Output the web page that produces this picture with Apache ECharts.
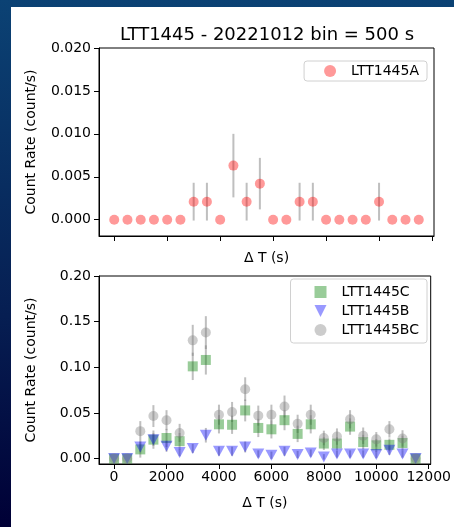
<!DOCTYPE html>
<html>
<head>
<meta charset="utf-8">
<script src="https://cdn.jsdelivr.net/npm/echarts@6/dist/echarts.min.js"></script>
<style>
  html, body { margin: 0; padding: 0; }
  body {
    width: 454px; height: 527px; overflow: hidden;
    background: linear-gradient(to bottom, #0b4274 0%, #061e52 60%, #000036 100%);
    position: relative;
  }
  #panel { position: absolute; left: 11px; top: 7px; right: 0; bottom: 0; background: #fff; }
  #chart { position: absolute; left: 0; top: 0; width: 454px; height: 527px; }
</style>
</head>
<body>
<div id="panel"></div>
<div id="chart"></div>
<script>
// time bins (s)
const deltaT = [0, 500, 1000, 1500, 2000, 2500, 3000, 3500, 4000, 4500, 5000, 5500,
  6000, 6500, 7000, 7500, 8000, 8500, 9000, 9500, 10000, 10500, 11000, 11500];

// LTT1445A (top panel)
const rateA = [0, 0, 0, 0, 0, 0, 0.0021, 0.0021, 0, 0.0063, 0.0021, 0.0042,
  0, 0, 0.0021, 0.0021, 0, 0, 0, 0, 0.0021, 0, 0, 0];
const errA = [0, 0, 0, 0, 0, 0, 0.0022, 0.0022, 0, 0.0037, 0.0022, 0.0030,
  0, 0, 0.0022, 0.0022, 0, 0, 0, 0, 0.0022, 0, 0, 0];

// bottom panel
const rateC = [0, 0, 0.010, 0.0207, 0.0225, 0.019, 0.101, 0.108, 0.0375, 0.037, 0.0527, 0.0335,
  0.032, 0.042, 0.027, 0.0375, 0.0164, 0.0164, 0.035, 0.018, 0.0145, 0.015, 0.017, 0];
const errC = [0, 0, 0.009, 0.010, 0.010, 0.009, 0.015, 0.016, 0.010, 0.010, 0.012, 0.010,
  0.010, 0.011, 0.009, 0.010, 0.007, 0.007, 0.009, 0.008, 0.007, 0.007, 0.008, 0];
const rateB = [0, 0, 0.0127, 0.0207, 0.0135, 0.0065, 0.011, 0.0255, 0.008, 0.008, 0.0127, 0.005,
  0.0036, 0.008, 0.0044, 0.006, 0.0018, 0.005, 0.005, 0.005, 0.0044, 0.009, 0.005, 0];
const errB = [0, 0, 0.006, 0.007, 0.006, 0.004, 0.005, 0.008, 0.005, 0.005, 0.006, 0.004,
  0.004, 0.005, 0.004, 0.004, 0.003, 0.004, 0.004, 0.004, 0.004, 0.005, 0.004, 0];
const rateBC = [0, 0, 0.030, 0.0465, 0.042, 0.028, 0.1295, 0.138, 0.048, 0.051, 0.076, 0.047,
  0.048, 0.057, 0.038, 0.048, 0.0225, 0.024, 0.043, 0.025, 0.021, 0.032, 0.022, 0];
const errBC = [0, 0, 0.011, 0.012, 0.011, 0.010, 0.017, 0.018, 0.011, 0.011, 0.013, 0.011,
  0.011, 0.012, 0.010, 0.011, 0.008, 0.009, 0.010, 0.009, 0.008, 0.009, 0.009, 0];

const xTicks = [0, 2000, 4000, 6000, 8000, 10000, 12000];
const yTicksTop = [0, 0.005, 0.010, 0.015, 0.020];
const yTicksBottom = [0, 0.05, 0.10, 0.15, 0.20];

const FONT = "DejaVu Sans";
const errColor = "rgba(128,128,128,0.5)";

function pts(vals) {
  return deltaT.map((t, i) => [t, vals[i]]);
}
function bars(vals, errs) {
  return deltaT.map((t, i) => [t, vals[i], errs[i]]);
}
function errorSeries(name, vals, errs, axis) {
  return {
    name: name,
    type: "custom",
    xAxisIndex: axis,
    yAxisIndex: axis,
    encode: { x: 0, y: 1 },
    data: bars(vals, errs),
    silent: true,
    renderItem: function (params, api) {
      const x = api.value(0), y = api.value(1), e = api.value(2);
      if (!e) return;
      const p1 = api.coord([x, y - e]);
      const p2 = api.coord([x, y + e]);
      return {
        type: "line",
        shape: { x1: p1[0], y1: p1[1], x2: p2[0], y2: p2[1] },
        style: { stroke: errColor, lineWidth: 2 },
      };
    },
  };
}

function xAxis(idx, showLabels, name, nameGap) {
  return {
    type: "value",
    gridIndex: idx,
    min: -575,
    max: 12075,
    name: name,
    nameLocation: "middle",
    nameGap: nameGap,
    nameTextStyle: { color: "#000", fontFamily: FONT, fontSize: 14 },
    splitLine: { show: false },
    axisLine: { show: true, onZero: false, lineStyle: { color: "#000", width: 1 } },
    axisTick: { show: true, length: 5, customValues: xTicks, lineStyle: { color: "#000" } },
    axisLabel: {
      show: showLabels,
      customValues: xTicks,
      margin: 6,
      color: "#000",
      fontFamily: FONT,
      fontSize: 14,
      formatter: (v) => String(v),
    },
  };
}

function yAxis(idx, min, max, ticks, digits) {
  return {
    type: "value",
    gridIndex: idx,
    min: min,
    max: max,
    name: "Count Rate (count/s)",
    nameLocation: "middle",
    nameGap: 61,
    nameTextStyle: { color: "#000", fontFamily: FONT, fontSize: 14 },
    splitLine: { show: false },
    axisLine: { show: true, onZero: false, lineStyle: { color: "#000", width: 1 } },
    axisTick: { show: true, length: 5, customValues: ticks, lineStyle: { color: "#000" } },
    axisLabel: {
      customValues: ticks,
      margin: 8,
      color: "#000",
      fontFamily: FONT,
      fontSize: 14,
      formatter: (v) => v.toFixed(digits),
    },
  };
}

const legendBox = {
  orient: "vertical",
  right: 27,
  backgroundColor: "rgba(255,255,255,0.8)",
  borderColor: "#d0d0d0",
  borderWidth: 1,
  borderRadius: 3,
  itemWidth: 12,
  itemHeight: 12,
  textStyle: { color: "#000", fontFamily: FONT, fontSize: 14, padding: [0, 0, 0, 10] },
};

const option = {
  animation: false,
  backgroundColor: "transparent",
  textStyle: { fontFamily: FONT },
  title: {
    text: "LTT1445 - 20221012 bin = 500 s",
    left: 262,
    textAlign: "center",
    top: 21,
    textStyle: { color: "#000", fontFamily: FONT, fontSize: 18, fontWeight: "normal" },
  },
  legend: [
    Object.assign({}, legendBox, {
      top: 61,
      padding: [3, 8, 3, 20],
      data: [{ name: "LTT1445A", icon: "circle" }],
    }),
    Object.assign({}, legendBox, {
      top: 279,
      padding: [6, 8, 6, 24],
      itemGap: 5,
      data: [
        { name: "LTT1445C", icon: "rect" },
        { name: "LTT1445B", icon: "path://M0,0 L10,0 L5,10 Z" },
        { name: "LTT1445BC", icon: "circle" },
      ],
    }),
  ],
  grid: [
    { left: 99, top: 48, width: 335, height: 188, show: true, borderColor: "#000", borderWidth: 1, backgroundColor: "transparent" },
    { left: 99, top: 276, width: 335, height: 188, show: true, borderColor: "#000", borderWidth: 1, backgroundColor: "transparent" },
  ],
  xAxis: [
    xAxis(0, false, "\u0394 T (s)", 15),
    xAxis(1, true, "\u0394 T (s)", 32),
  ],
  yAxis: [
    yAxis(0, -0.0019, 0.02, yTicksTop, 3),
    yAxis(1, -0.006, 0.2, yTicksBottom, 2),
  ],
  series: [
    errorSeries("errA", rateA, errA, 0),
    {
      name: "LTT1445A", type: "scatter", xAxisIndex: 0, yAxisIndex: 0,
      symbol: "circle", symbolSize: 10,
      itemStyle: { color: "rgba(255,0,0,0.5)" },
      data: pts(rateA),
    },
    errorSeries("errC", rateC, errC, 1),
    {
      name: "LTT1445C", type: "scatter", xAxisIndex: 1, yAxisIndex: 1,
      symbol: "rect", symbolSize: 10,
      itemStyle: { color: "rgba(0,128,0,0.5)" },
      data: pts(rateC),
    },
    errorSeries("errB", rateB, errB, 1),
    {
      name: "LTT1445B", type: "scatter", xAxisIndex: 1, yAxisIndex: 1,
      symbol: "triangle", symbolRotate: 180, symbolSize: [12, 11],
      itemStyle: { color: "rgba(0,0,255,0.5)" },
      data: pts(rateB),
    },
    errorSeries("errBC", rateBC, errBC, 1),
    {
      name: "LTT1445BC", type: "scatter", xAxisIndex: 1, yAxisIndex: 1,
      symbol: "circle", symbolSize: 10,
      itemStyle: { color: "rgba(128,128,128,0.5)" },
      data: pts(rateBC),
    },
  ],
};

const myChart = echarts.init(document.getElementById("chart"), null, { renderer: "canvas" });
myChart.setOption(option);
</script>
</body>
</html>
